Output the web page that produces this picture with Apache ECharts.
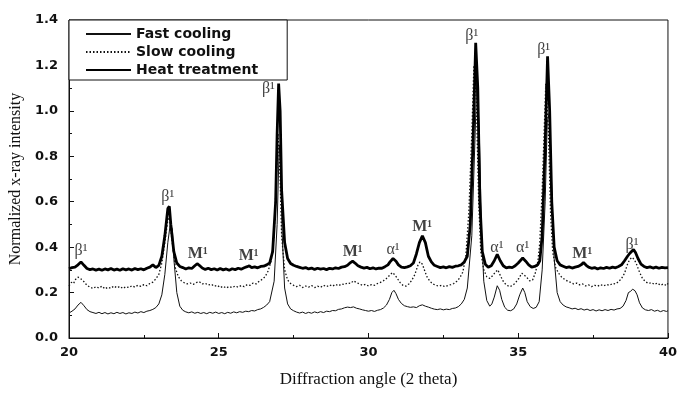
<!DOCTYPE html>
<html>
<head>
<meta charset="utf-8">
<script src="https://cdn.jsdelivr.net/npm/echarts@6/dist/echarts.min.js"></script>
<style>html,body{margin:0;padding:0;background:#fff}#c{width:680px;height:393px}</style>
</head>
<body>
<div id="c"></div>
<script>
const seriesNames = ['Fast cooling', 'Slow cooling', 'Heat treatment'];
const xTicks = [20, 25, 30, 35, 40];
const yTicks = [0.0, 0.2, 0.4, 0.6, 0.8, 1.0, 1.2, 1.4];

const fastCooling = [[20.0,0.11],[20.1,0.118],[20.2,0.128],[20.3,0.145],[20.4,0.157],[20.5,0.142],[20.6,0.125],[20.7,0.116],[20.8,0.112],[20.9,0.108],[21.0,0.113],[21.1,0.107],[21.2,0.112],[21.3,0.106],[21.4,0.111],[21.5,0.107],[21.6,0.113],[21.7,0.108],[21.8,0.112],[21.9,0.106],[22.0,0.111],[22.1,0.108],[22.2,0.114],[22.3,0.11],[22.4,0.116],[22.5,0.112],[22.6,0.118],[22.7,0.121],[22.8,0.126],[22.9,0.134],[23.0,0.15],[23.1,0.19],[23.2,0.28],[23.3,0.42],[23.38,0.5],[23.45,0.48],[23.5,0.35],[23.6,0.2],[23.7,0.14],[23.8,0.122],[23.9,0.115],[24.0,0.111],[24.1,0.115],[24.2,0.109],[24.3,0.113],[24.4,0.108],[24.5,0.112],[24.6,0.107],[24.7,0.113],[24.8,0.109],[24.9,0.114],[25.0,0.108],[25.1,0.112],[25.2,0.107],[25.3,0.113],[25.4,0.109],[25.5,0.115],[25.6,0.111],[25.7,0.116],[25.8,0.113],[25.9,0.118],[26.0,0.116],[26.1,0.121],[26.2,0.119],[26.3,0.125],[26.4,0.128],[26.5,0.135],[26.6,0.145],[26.7,0.16],[26.85,0.25],[26.95,0.5],[27.02,0.85],[27.07,0.75],[27.12,0.45],[27.2,0.22],[27.3,0.15],[27.4,0.128],[27.5,0.12],[27.6,0.114],[27.7,0.11],[27.8,0.114],[27.9,0.108],[28.0,0.113],[28.1,0.109],[28.2,0.115],[28.3,0.111],[28.4,0.116],[28.5,0.112],[28.6,0.118],[28.7,0.116],[28.8,0.121],[28.9,0.12],[29.0,0.126],[29.1,0.128],[29.2,0.133],[29.3,0.136],[29.4,0.134],[29.5,0.137],[29.6,0.131],[29.7,0.128],[29.8,0.124],[29.9,0.121],[30.0,0.118],[30.1,0.121],[30.2,0.117],[30.3,0.122],[30.4,0.125],[30.5,0.132],[30.6,0.145],[30.7,0.17],[30.78,0.2],[30.85,0.21],[30.92,0.195],[31.0,0.17],[31.1,0.152],[31.2,0.142],[31.3,0.138],[31.4,0.135],[31.5,0.137],[31.6,0.134],[31.7,0.142],[31.8,0.146],[31.9,0.14],[32.0,0.136],[32.1,0.131],[32.2,0.127],[32.3,0.125],[32.4,0.128],[32.5,0.124],[32.6,0.127],[32.7,0.125],[32.8,0.13],[32.9,0.132],[33.0,0.138],[33.1,0.15],[33.2,0.17],[33.3,0.22],[33.45,0.45],[33.55,0.85],[33.62,1.15],[33.7,0.9],[33.78,0.45],[33.85,0.25],[33.95,0.165],[34.05,0.14],[34.12,0.15],[34.2,0.18],[34.3,0.23],[34.38,0.21],[34.45,0.17],[34.55,0.135],[34.65,0.122],[34.75,0.12],[34.85,0.128],[34.95,0.15],[35.05,0.19],[35.15,0.22],[35.22,0.2],[35.3,0.16],[35.4,0.138],[35.5,0.13],[35.6,0.135],[35.7,0.16],[35.8,0.3],[35.9,0.6],[35.97,0.95],[36.05,1.0],[36.12,0.65],[36.2,0.35],[36.3,0.2],[36.4,0.16],[36.5,0.145],[36.6,0.137],[36.7,0.133],[36.8,0.128],[36.9,0.131],[37.0,0.125],[37.1,0.129],[37.2,0.123],[37.3,0.127],[37.4,0.121],[37.5,0.125],[37.6,0.119],[37.7,0.124],[37.8,0.12],[37.9,0.125],[38.0,0.121],[38.1,0.126],[38.2,0.123],[38.3,0.128],[38.4,0.13],[38.5,0.14],[38.6,0.165],[38.68,0.2],[38.75,0.205],[38.82,0.215],[38.9,0.208],[38.97,0.19],[39.05,0.155],[39.15,0.132],[39.25,0.124],[39.35,0.121],[39.45,0.125],[39.55,0.118],[39.65,0.122],[39.75,0.116],[39.85,0.121],[39.95,0.117],[40.0,0.12]];

const slowCooling = [[20.0,0.23],[20.08,0.245],[20.15,0.24],[20.22,0.258],[20.3,0.268],[20.38,0.262],[20.45,0.255],[20.52,0.245],[20.6,0.232],[20.7,0.224],[20.8,0.218],[20.9,0.226],[21.0,0.22],[21.1,0.228],[21.2,0.216],[21.3,0.224],[21.4,0.219],[21.5,0.229],[21.6,0.221],[21.7,0.227],[21.8,0.218],[21.9,0.226],[22.0,0.222],[22.1,0.23],[22.2,0.224],[22.3,0.232],[22.4,0.227],[22.5,0.235],[22.6,0.23],[22.7,0.24],[22.8,0.246],[22.9,0.26],[23.0,0.28],[23.1,0.33],[23.2,0.42],[23.3,0.52],[23.35,0.53],[23.45,0.42],[23.55,0.31],[23.65,0.27],[23.75,0.252],[23.85,0.243],[23.95,0.238],[24.05,0.242],[24.15,0.236],[24.25,0.244],[24.35,0.248],[24.45,0.238],[24.55,0.241],[24.65,0.233],[24.75,0.237],[24.85,0.228],[24.95,0.232],[25.05,0.222],[25.15,0.228],[25.25,0.22],[25.35,0.227],[25.45,0.222],[25.55,0.229],[25.65,0.224],[25.75,0.231],[25.85,0.226],[25.95,0.235],[26.05,0.232],[26.15,0.242],[26.25,0.238],[26.35,0.25],[26.45,0.258],[26.55,0.27],[26.65,0.295],[26.75,0.34],[26.85,0.45],[26.92,0.7],[26.98,0.9],[27.05,0.7],[27.1,0.45],[27.2,0.3],[27.3,0.255],[27.4,0.24],[27.5,0.232],[27.6,0.226],[27.7,0.232],[27.8,0.222],[27.9,0.229],[28.0,0.224],[28.1,0.231],[28.2,0.222],[28.3,0.228],[28.4,0.223],[28.5,0.232],[28.6,0.226],[28.7,0.234],[28.8,0.228],[28.9,0.236],[29.0,0.23],[29.1,0.238],[29.2,0.235],[29.3,0.243],[29.4,0.24],[29.5,0.252],[29.6,0.244],[29.7,0.238],[29.8,0.232],[29.9,0.236],[30.0,0.229],[30.1,0.235],[30.2,0.232],[30.3,0.24],[30.4,0.245],[30.5,0.252],[30.6,0.262],[30.7,0.275],[30.8,0.288],[30.88,0.278],[30.95,0.265],[31.05,0.245],[31.15,0.232],[31.25,0.228],[31.35,0.238],[31.45,0.255],[31.55,0.28],[31.65,0.32],[31.72,0.335],[31.8,0.325],[31.88,0.295],[31.95,0.27],[32.05,0.25],[32.15,0.238],[32.25,0.232],[32.35,0.228],[32.45,0.232],[32.55,0.226],[32.65,0.231],[32.75,0.235],[32.85,0.24],[32.95,0.25],[33.05,0.265],[33.15,0.29],[33.25,0.36],[33.35,0.55],[33.45,0.9],[33.52,1.2],[33.6,1.05],[33.68,0.6],[33.75,0.38],[33.85,0.3],[33.95,0.27],[34.05,0.262],[34.15,0.275],[34.25,0.292],[34.32,0.3],[34.42,0.27],[34.52,0.245],[34.62,0.232],[34.72,0.226],[34.82,0.232],[34.92,0.245],[35.02,0.262],[35.12,0.285],[35.18,0.29],[35.28,0.268],[35.38,0.252],[35.48,0.255],[35.58,0.29],[35.66,0.34],[35.72,0.42],[35.8,0.65],[35.92,1.12],[36.0,0.95],[36.08,0.55],[36.15,0.38],[36.25,0.31],[36.35,0.285],[36.45,0.268],[36.55,0.258],[36.65,0.25],[36.75,0.245],[36.85,0.238],[36.95,0.242],[37.05,0.234],[37.15,0.238],[37.25,0.229],[37.35,0.234],[37.45,0.226],[37.55,0.232],[37.65,0.228],[37.75,0.235],[37.85,0.229],[37.95,0.236],[38.05,0.232],[38.15,0.24],[38.25,0.238],[38.35,0.248],[38.45,0.262],[38.55,0.285],[38.65,0.325],[38.72,0.345],[38.8,0.355],[38.88,0.345],[38.95,0.325],[39.05,0.29],[39.15,0.262],[39.25,0.248],[39.35,0.24],[39.45,0.244],[39.55,0.236],[39.65,0.242],[39.75,0.232],[39.85,0.238],[39.95,0.231],[40.0,0.24]];

const heatTreatment = [[20.0,0.305],[20.1,0.31],[20.2,0.312],[20.3,0.322],[20.4,0.335],[20.5,0.32],[20.6,0.306],[20.7,0.301],[20.8,0.304],[20.9,0.299],[21.0,0.303],[21.1,0.298],[21.2,0.304],[21.3,0.30],[21.4,0.306],[21.5,0.299],[21.6,0.303],[21.7,0.298],[21.8,0.305],[21.9,0.30],[22.0,0.304],[22.1,0.299],[22.2,0.306],[22.3,0.301],[22.4,0.305],[22.5,0.30],[22.6,0.307],[22.7,0.312],[22.8,0.322],[22.9,0.31],[23.0,0.32],[23.1,0.36],[23.2,0.45],[23.3,0.57],[23.35,0.58],[23.4,0.5],[23.5,0.38],[23.6,0.33],[23.7,0.315],[23.8,0.31],[23.9,0.304],[24.0,0.309],[24.1,0.306],[24.2,0.318],[24.28,0.327],[24.35,0.32],[24.45,0.308],[24.55,0.302],[24.65,0.307],[24.75,0.301],[24.85,0.305],[24.95,0.299],[25.05,0.306],[25.15,0.30],[25.25,0.304],[25.35,0.298],[25.45,0.305],[25.55,0.301],[25.65,0.307],[25.75,0.303],[25.85,0.309],[25.95,0.314],[26.02,0.318],[26.1,0.31],[26.2,0.313],[26.3,0.309],[26.4,0.315],[26.5,0.316],[26.6,0.322],[26.7,0.33],[26.8,0.38],[26.9,0.6],[26.95,0.9],[27.0,1.12],[27.05,1.0],[27.1,0.65],[27.2,0.42],[27.3,0.35],[27.4,0.328],[27.5,0.32],[27.6,0.315],[27.7,0.311],[27.8,0.307],[27.9,0.31],[28.0,0.304],[28.1,0.308],[28.2,0.302],[28.3,0.307],[28.4,0.303],[28.5,0.306],[28.6,0.301],[28.7,0.307],[28.8,0.304],[28.9,0.309],[29.0,0.306],[29.1,0.312],[29.2,0.314],[29.3,0.32],[29.4,0.332],[29.47,0.338],[29.55,0.33],[29.65,0.318],[29.75,0.312],[29.85,0.308],[29.95,0.311],[30.05,0.305],[30.15,0.309],[30.25,0.304],[30.35,0.308],[30.45,0.307],[30.55,0.314],[30.65,0.322],[30.72,0.335],[30.82,0.35],[30.92,0.338],[31.0,0.322],[31.1,0.312],[31.2,0.31],[31.3,0.313],[31.4,0.318],[31.5,0.33],[31.6,0.37],[31.7,0.42],[31.8,0.45],[31.9,0.42],[32.0,0.36],[32.1,0.335],[32.2,0.32],[32.3,0.315],[32.4,0.31],[32.5,0.313],[32.6,0.309],[32.7,0.314],[32.8,0.311],[32.9,0.316],[33.0,0.318],[33.1,0.322],[33.2,0.335],[33.3,0.36],[33.4,0.5],[33.5,0.9],[33.58,1.3],[33.65,1.1],[33.72,0.6],[33.8,0.38],[33.9,0.325],[34.0,0.312],[34.1,0.318],[34.2,0.34],[34.3,0.368],[34.4,0.34],[34.5,0.318],[34.6,0.309],[34.7,0.312],[34.8,0.31],[34.9,0.318],[35.0,0.33],[35.15,0.352],[35.25,0.338],[35.35,0.322],[35.45,0.312],[35.55,0.315],[35.65,0.322],[35.72,0.34],[35.8,0.45],[35.9,0.85],[35.98,1.24],[36.05,1.0],[36.12,0.6],[36.2,0.4],[36.3,0.34],[36.4,0.322],[36.5,0.316],[36.6,0.31],[36.7,0.313],[36.8,0.308],[36.9,0.312],[37.0,0.315],[37.1,0.322],[37.18,0.332],[37.27,0.32],[37.35,0.312],[37.45,0.307],[37.55,0.31],[37.65,0.304],[37.75,0.309],[37.85,0.306],[37.95,0.311],[38.05,0.307],[38.15,0.312],[38.25,0.309],[38.35,0.315],[38.45,0.322],[38.55,0.34],[38.65,0.36],[38.72,0.372],[38.78,0.365],[38.85,0.39],[38.92,0.375],[39.0,0.35],[39.1,0.325],[39.2,0.315],[39.3,0.31],[39.4,0.313],[39.5,0.308],[39.6,0.312],[39.7,0.307],[39.8,0.311],[39.9,0.309],[40.0,0.31]];

// peak annotations
const peakLabelX = [20.4, 23.3, 24.3, 26.0, 26.66, 29.47, 30.82, 31.79, 33.45, 34.29, 35.15, 35.85, 37.14, 38.8];
const peakLabelY = [0.385, 0.62, 0.37, 0.36, 1.095, 0.38, 0.39, 0.49, 1.33, 0.395, 0.395, 1.27, 0.37, 0.41];
const peakLabelText = ['β¹','β¹','M¹','M¹','β¹','M¹','α¹','M¹','β¹','α¹','α¹','β¹','M¹','β¹'];

const chart = echarts.init(document.getElementById('c'), null, {renderer: 'canvas'});

const tickFont = {fontFamily: 'DejaVu Sans', fontWeight: 'bold', fontSize: 13, color: '#111'};

const labelData = peakLabelX.map((x, i) => {
  const d = {value: [x, peakLabelY[i]], name: peakLabelText[i]};
  if (peakLabelText[i][0] === 'M') d.label = {fontWeight: 'bold'};
  return d;
});

chart.setOption({
  backgroundColor: '#fff',
  animation: false,
  grid: {left: 69, right: 7, top: 20, bottom: 50, show: true, borderColor: '#111', borderWidth: 1, backgroundColor: 'transparent'},
  legend: {
    show: true,
    data: seriesNames,
    orient: 'vertical',
    left: 69, top: 20,
    padding: [7, 29, 3, 16],
    itemGap: 4,
    itemWidth: 45, itemHeight: 14,
    itemStyle: {opacity: 0, borderWidth: 0},
    borderColor: '#111', borderWidth: 1,
    backgroundColor: '#fff',
    textStyle: {fontFamily: 'DejaVu Sans', fontWeight: 'bold', fontSize: 14, color: '#111'},
    z: 10
  },
  xAxis: {
    type: 'value', min: xTicks[0], max: xTicks[xTicks.length - 1], interval: 5,
    axisLine: {lineStyle: {color: '#111', width: 1}},
    axisTick: {inside: true, length: 5, lineStyle: {color: '#111'}},
    minorTick: {show: true, splitNumber: 2, length: 3, lineStyle: {color: '#111'}},
    splitLine: {show: false},
    axisLabel: Object.assign({margin: 8}, tickFont),
    name: 'Diffraction angle (2 theta)',
    nameLocation: 'middle', nameGap: 33,
    nameTextStyle: {fontFamily: 'Liberation Serif', fontSize: 17, color: '#111'}
  },
  yAxis: {
    type: 'value', min: yTicks[0], max: yTicks[yTicks.length - 1], interval: 0.2,
    axisLine: {show: true, lineStyle: {color: '#111', width: 1}},
    axisTick: {show: true, inside: true, length: 5, lineStyle: {color: '#111'}},
    minorTick: {show: true, splitNumber: 2, length: 3, lineStyle: {color: '#111'}},
    splitLine: {show: false},
    axisLabel: Object.assign({margin: 11, formatter: v => v.toFixed(1)}, tickFont),
    name: 'Normalized x-ray intensity',
    nameLocation: 'middle', nameGap: 38,
    nameTextStyle: {fontFamily: 'Liberation Serif', fontSize: 16, color: '#111'}
  },
  series: [
    {name: seriesNames[0], type: 'line', data: fastCooling, showSymbol: false, symbol: 'none',
     lineStyle: {color: '#111', width: 1}, itemStyle: {color: '#111'}, z: 2},
    {name: seriesNames[1], type: 'line', data: slowCooling, showSymbol: false, symbol: 'none',
     lineStyle: {color: '#111', width: 1.3, type: [1.5, 2]}, itemStyle: {color: '#111'}, z: 3},
    {name: seriesNames[2], type: 'line', data: heatTreatment, showSymbol: false, symbol: 'none',
     lineStyle: {color: '#000', width: 2.8}, itemStyle: {color: '#000'}, z: 4},
    {name: 'labels', type: 'scatter', data: labelData, symbolSize: 0, silent: true, z: 6,
     label: {show: true, position: 'inside', formatter: p => p.name,
       fontFamily: 'Liberation Serif', fontSize: 16, color: '#111'},
     emphasis: {disabled: true}}
  ]
});
</script>
</body>
</html>
